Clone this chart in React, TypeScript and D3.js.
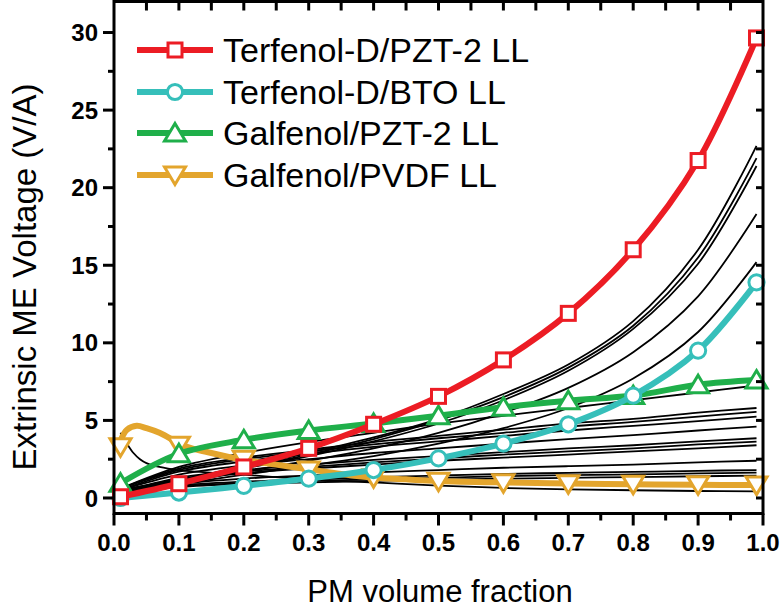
import React from 'react';
import * as d3 from 'd3';

// ---------- data ----------
const X_GRID = [0.01, 0.1, 0.2, 0.3, 0.4, 0.5, 0.6, 0.7, 0.8, 0.9, 0.99];

const terfenolPZT = [0.08, 0.92, 2.0, 3.2, 4.75, 6.55, 8.9, 11.9, 16.0, 21.75, 29.65];
const terfenolBTO = [0.0, 0.35, 0.78, 1.25, 1.8, 2.55, 3.5, 4.75, 6.6, 9.5, 13.9];
const galfenolPZT = [0.95, 2.85, 3.75, 4.35, 4.8, 5.3, 5.85, 6.27, 6.6, 7.3, 7.6];
const galfenolPVDFMarkers = [3.3, 3.4, 2.5, 1.8, 1.3, 1.08, 0.98, 0.92, 0.88, 0.85, 0.83];

const PVDF_LINE_X = [0.01, 0.02, 0.035, 0.05, 0.07, 0.09, 0.1, 0.12, 0.15, 0.18, 0.2, 0.25, 0.3, 0.35, 0.4, 0.45, 0.5, 0.6, 0.7, 0.8, 0.9, 0.99];
const galfenolPVDFLine = [3.7, 4.4, 4.65, 4.5, 4.2, 3.75, 3.5, 3.2, 2.9, 2.62, 2.45, 2.15, 1.85, 1.55, 1.32, 1.2, 1.1, 1.0, 0.93, 0.88, 0.85, 0.83];

// black model curves sampled on X_GRID
const blackUpper = [
  [0.5, 1.2, 2.0, 2.9, 3.9, 5.1, 6.7, 8.6, 11.4, 16.0, 22.7],
  [0.5, 1.15, 1.95, 2.8, 3.8, 5.0, 6.5, 8.4, 11.1, 15.5, 21.9],
  [0.5, 1.1, 1.9, 2.7, 3.65, 4.8, 6.3, 8.2, 10.9, 15.1, 21.4],
  [0.45, 1.0, 1.7, 2.4, 3.2, 4.2, 5.5, 7.1, 9.4, 13.0, 18.3],
  [0.4, 0.9, 1.5, 2.1, 2.7, 3.5, 4.5, 5.8, 7.7, 10.7, 15.2],
];
const blackLower = [
  [0.6, 2.0, 2.9, 3.6, 4.2, 4.8, 5.3, 5.8, 6.3, 6.8, 7.25],
  [0.6, 1.9, 2.6, 3.1, 3.6, 4.0, 4.4, 4.8, 5.1, 5.5, 5.8],
  [0.6, 1.8, 2.5, 3.0, 3.45, 3.85, 4.2, 4.6, 4.9, 5.25, 5.55],
  [0.5, 1.7, 2.35, 2.85, 3.3, 3.65, 4.0, 4.35, 4.65, 4.95, 5.25],
  [0.5, 1.5, 2.1, 2.5, 2.9, 3.2, 3.5, 3.8, 4.05, 4.35, 4.6],
  [0.4, 1.3, 1.8, 2.15, 2.45, 2.7, 2.95, 3.2, 3.4, 3.65, 3.85],
  [0.4, 1.2, 1.7, 2.0, 2.3, 2.55, 2.8, 3.0, 3.2, 3.45, 3.63],
  [0.35, 1.1, 1.6, 1.9, 2.15, 2.4, 2.6, 2.8, 3.0, 3.2, 3.4],
  [0.3, 0.9, 1.25, 1.45, 1.65, 1.8, 1.95, 2.05, 2.15, 2.3, 2.4],
  [0.3, 0.8, 1.05, 1.2, 1.35, 1.45, 1.55, 1.62, 1.68, 1.75, 1.8],
  [0.3, 0.75, 0.95, 1.1, 1.2, 1.3, 1.4, 1.47, 1.52, 1.58, 1.63],
  [0.3, 0.7, 0.9, 1.0, 1.1, 1.18, 1.25, 1.3, 1.35, 1.4, 1.44],
];
const DECAY_X = [0.01, 0.02, 0.03, 0.04, 0.05, 0.07, 0.1, 0.2, 0.3, 0.4, 0.5, 0.6, 0.7, 0.8, 0.9, 0.99];
const blackDecay = [4.2, 3.5, 2.9, 2.5, 2.25, 2.0, 1.8, 1.5, 1.2, 1.0, 0.8, 0.65, 0.55, 0.5, 0.45, 0.42];

const X_TICKS = [0, 0.1, 0.2, 0.3, 0.4, 0.5, 0.6, 0.7, 0.8, 0.9, 1.0];
const X_TICK_LABELS = ['0.0', '0.1', '0.2', '0.3', '0.4', '0.5', '0.6', '0.7', '0.8', '0.9', '1.0'];
const Y_TICKS = [0, 5, 10, 15, 20, 25, 30];
const Y_TICK_LABELS = ['0', '5', '10', '15', '20', '25', '30'];

const SERIES_NAMES = ['Terfenol-D/PZT-2 LL', 'Terfenol-D/BTO LL', 'Galfenol/PZT-2 LL', 'Galfenol/PVDF LL'];
const SERIES_COLORS = ['#EC1C24', '#36BFBA', '#1FAF4A', '#E3A52D'];
const SERIES_SYMBOLS = ['square', 'circle', 'up', 'down'];

const FONT = 'Liberation Sans, Arial, Helvetica, sans-serif';

function Marker({ kind, cx, cy, color }: { kind: string; cx: number; cy: number; color: string }) {
  const sw = 3;
  if (kind === 'square') {
    return <rect x={cx - 7} y={cy - 7} width={14} height={14} fill="#fff" stroke={color} strokeWidth={sw} />;
  }
  if (kind === 'circle') {
    return <circle cx={cx} cy={cy} r={7.6} fill="#fff" stroke={color} strokeWidth={sw} />;
  }
  if (kind === 'up') {
    const d = `M${cx},${cy - 9.5}L${cx + 10.5},${cy + 8}L${cx - 10.5},${cy + 8}Z`;
    return <path d={d} fill="#fff" stroke={color} strokeWidth={sw} strokeLinejoin="miter" />;
  }
  const d = `M${cx},${cy + 9.5}L${cx + 10.5},${cy - 8}L${cx - 10.5},${cy - 8}Z`;
  return <path d={d} fill="#fff" stroke={color} strokeWidth={sw} strokeLinejoin="miter" />;
}

export default function App() {
  const W = 781;
  const H = 610;
  const x = d3.scaleLinear().domain([0, 1]).range([114, 763]);
  const y = d3.scaleLinear().domain([-1, 32]).range([513.5, 1.5]);

  const smooth = d3
    .line<[number, number]>()
    .x((d) => x(d[0]))
    .y((d) => y(d[1]))
    .curve(d3.curveCatmullRom.alpha(0.5));

  const zip = (xs: number[], ys: number[]) => xs.map((v, i) => [v, ys[i]] as [number, number]);

  const seriesVals = [terfenolPZT, terfenolBTO, galfenolPZT, galfenolPVDFMarkers];
  const seriesLines = [
    zip(X_GRID, terfenolPZT),
    zip(X_GRID, terfenolBTO),
    zip(X_GRID, galfenolPZT),
    zip(PVDF_LINE_X, galfenolPVDFLine),
  ];
  const drawOrder = [3, 2, 1, 0];

  const x0 = x(0), x1 = x(1), yTop = y(32), yBot = y(-1);

  const xMinor = d3.range(0, 20).map((i) => 0.05 + i * 0.1).filter((v) => v < 1);
  const topTicks = d3.range(1, 20).map((i) => i * 0.05);
  const yMinor = [2.5, 7.5, 12.5, 17.5, 22.5, 27.5];
  const rightTicks = d3.range(0, 13).map((i) => i * 2.5);

  const legendRows = [50, 92, 133, 175];

  return (
    <svg width={W} height={H} style={{ position: 'absolute', left: 0, top: 0, background: '#fff' }} fontFamily={FONT}>
      <rect x={0} y={0} width={W} height={H} fill="#fff" />
      <defs>
        <clipPath id="plotClip">
          <rect x={x0} y={yTop} width={x1 - x0} height={yBot - yTop} />
        </clipPath>
      </defs>

      <g clipPath="url(#plotClip)">
        {blackUpper.concat(blackLower).map((vals, i) => (
          <path key={'b' + i} d={smooth(zip(X_GRID, vals)) || ''} fill="none" stroke="#000" strokeWidth={1.8} />
        ))}
        <path d={smooth(zip(DECAY_X, blackDecay)) || ''} fill="none" stroke="#000" strokeWidth={1.8} />
      </g>

      {drawOrder.map((si) => (
        <g key={'s' + si}>
          <path d={smooth(seriesLines[si]) || ''} fill="none" stroke={SERIES_COLORS[si]} strokeWidth={6} />
          {seriesVals[si].map((v, j) => (
            <Marker key={j} kind={SERIES_SYMBOLS[si]} cx={x(X_GRID[j])} cy={y(v)} color={SERIES_COLORS[si]} />
          ))}
        </g>
      ))}

      {/* frame */}
      <rect x={x0} y={yTop} width={x1 - x0} height={yBot - yTop} fill="none" stroke="#000" strokeWidth={3} />

      {/* bottom ticks */}
      {X_TICKS.map((t, i) => (
        <g key={'xt' + i}>
          <line x1={x(t)} x2={x(t)} y1={yBot} y2={yBot + 12} stroke="#000" strokeWidth={3} />
          <text x={x(t)} y={551} textAnchor="middle" fontSize={24} fontWeight="bold" fill="#000">
            {X_TICK_LABELS[i]}
          </text>
        </g>
      ))}
      {xMinor.map((t, i) => (
        <line key={'xm' + i} x1={x(t)} x2={x(t)} y1={yBot} y2={yBot + 7} stroke="#000" strokeWidth={3} />
      ))}
      {/* top ticks */}
      {topTicks.map((t, i) => (
        <line key={'tt' + i} x1={x(t)} x2={x(t)} y1={yTop} y2={yTop + 9} stroke="#000" strokeWidth={3} />
      ))}
      {/* left ticks */}
      {Y_TICKS.map((t, i) => (
        <g key={'yt' + i}>
          <line x1={x0} x2={x0 - 11} y1={y(t)} y2={y(t)} stroke="#000" strokeWidth={3} />
          <text x={98} y={y(t)} dy="0.36em" textAnchor="end" fontSize={24} fontWeight="bold" fill="#000">
            {Y_TICK_LABELS[i]}
          </text>
        </g>
      ))}
      {yMinor.map((t, i) => (
        <line key={'ym' + i} x1={x0} x2={x0 - 6} y1={y(t)} y2={y(t)} stroke="#000" strokeWidth={3} />
      ))}
      {/* right ticks */}
      {rightTicks.map((t, i) => (
        <line key={'rt' + i} x1={x1} x2={x1 - 7} y1={y(t)} y2={y(t)} stroke="#000" strokeWidth={3} />
      ))}

      {/* axis titles */}
      <text x={440} y={602} textAnchor="middle" fontSize={31} fill="#000">
        PM volume fraction
      </text>
      <text transform="translate(36,277) rotate(-90)" textAnchor="middle" fontSize={33} fill="#000">
        Extrinsic ME Voltage (V/A)
      </text>

      {/* legend */}
      {SERIES_NAMES.map((name, i) => (
        <g key={'lg' + i}>
          <line x1={137} x2={213} y1={legendRows[i]} y2={legendRows[i]} stroke={SERIES_COLORS[i]} strokeWidth={6} />
          <Marker kind={SERIES_SYMBOLS[i]} cx={175} cy={legendRows[i]} color={SERIES_COLORS[i]} />
          <text x={223} y={legendRows[i] + 12} fontSize={34} fill="#000">
            {name}
          </text>
        </g>
      ))}
    </svg>
  );
}
